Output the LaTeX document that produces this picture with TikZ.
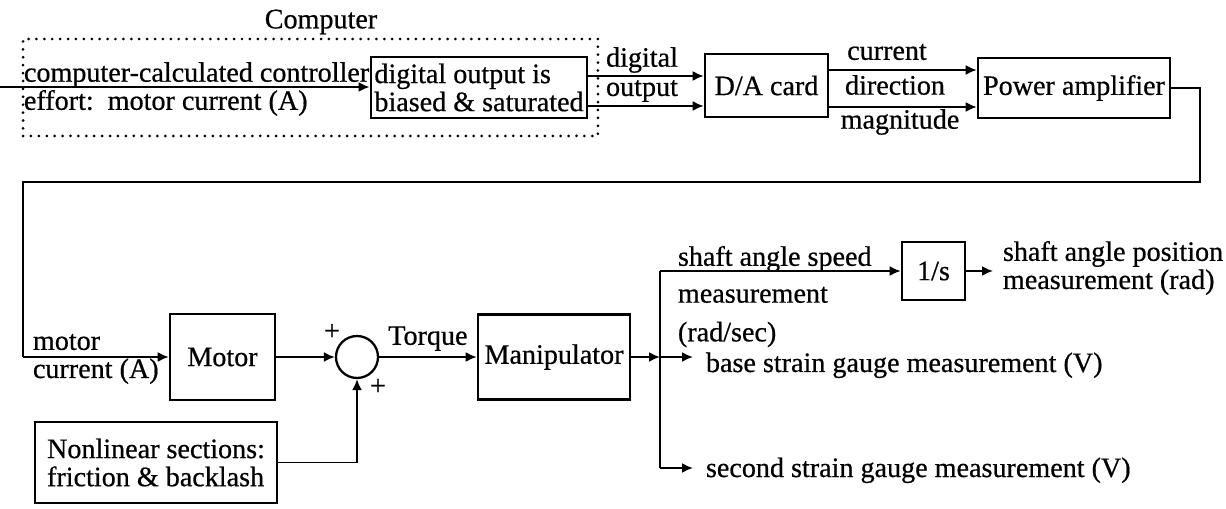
\documentclass[tikz,border=0pt]{standalone}
\usepackage{fontspec}
\setmainfont{Liberation Serif}[FakeBold=0.6]
\usetikzlibrary{arrows.meta, positioning}

\begin{document}
\begin{tikzpicture}[
    x=0.02cm, y=-0.02cm,
    line width=1.1pt,
    font=\fontsize{16}{16}\selectfont,
    caixa/.style={draw, rectangle, line width=1.5pt, inner sep=2pt, align=left},
    pontilhada/.style={draw, rectangle, line width=1.7pt, line cap=round, dash pattern=on 0pt off 4.5pt},
    somador/.style={draw, circle, line width=1.3pt, minimum size=0.84cm, inner sep=0pt},
    rotulo/.style={inner sep=0pt, align=left},
    seta/.style={-{Latex[length=2.2mm, width=2mm]}},
    fino/.style={line width=0.7pt}
]
    \useasboundingbox (0,0) rectangle (1226,509);

    % parte do computador
    \node (titulo) at (321,22) {Computer};
    \node[pontilhada, minimum width=11.5cm, minimum height=1.94cm] (computador) at (310.5,87.5) {};
    \node[caixa, minimum width=4.16cm, minimum height=1.22cm] (saida) at (479,87.5) {digital output is\\biased \& saturated};
    \node[rotulo, anchor=west] (esforco) at (23,89) {computer-calculated controller\\effort:\ \ motor current (A)};
    \coordinate (entrada) at (0,87);
    \draw[seta] (entrada) -- (saida.west |- entrada);

    % placa e amplificador
    \node[caixa, minimum width=2.46cm, minimum height=1.26cm] (placa) at (766.5,85.5) {D/A card};
    \node[caixa, minimum width=3.84cm, minimum height=1.2cm] (amplificador) at (1074,88) {Power amplifier};
    \node (digital) at (642,60) {digital};
    \node (output) at (642,91) {output};
    \node (corrente) at (887,52) {current};
    \node (direcao) at (895,85) {direction};
    \node (magnitude) at (900,122) {magnitude};

    \draw[seta] (saida.east |- 0,76) -- (placa.west |- 0,76);
    \draw[seta] (saida.east |- 0,106) -- (placa.west |- 0,106);
    \draw[seta] (placa.east |- 0,70) -- (amplificador.west |- 0,70);
    \draw[seta] (placa.east |- 0,107) -- (amplificador.west |- 0,107);

    % planta
    \node[caixa, minimum width=2.1cm, minimum height=1.72cm] (motor) at (222.5,357) {Motor};
    \node[somador] (soma) at (357,357) {};
    \node (mais1) at (332,332) {+};
    \node (mais2) at (378,387) {+};
    \node[caixa, minimum width=4.84cm, minimum height=1.62cm] (naolinear) at (156,462.5) {Nonlinear sections:\\friction \& backlash};
    \node[caixa, minimum width=3.04cm, minimum height=1.7cm] (manipulador) at (554,357) {Manipulator};
    \node[caixa, minimum width=1.26cm, minimum height=1.16cm] (integrador) at (933.5,271) {1/s};

    \coordinate (retorno) at (23,357);
    \draw[fino] (amplificador.east) -| (1200,182) -| (retorno);
    \node[rotulo, anchor=west] (correntemotor) at (32,359) {motor\\current (A)};
    \draw[seta] (retorno) -- (motor.west);
    \draw[seta] (motor) -- (soma);
    \draw[seta] (naolinear.east) -| (soma.south);
    \draw[seta] (soma) -- node[above, inner sep=3pt] (torque) {Torque} (manipulador);

    % medidas
    \coordinate (ramo) at (660,357);
    \coordinate (fimbase) at (693,357);
    \coordinate (fimsegunda) at (693,468);
    \coordinate (fimposicao) at (993,271);
    \draw[seta] (manipulador) -- (ramo);
    \draw[fino] (ramo |- integrador.west) -- (ramo |- fimsegunda);
    \draw[seta] (ramo |- integrador.west) -- (integrador.west);
    \draw[seta] (ramo) -- (fimbase);
    \draw[seta] (ramo |- fimsegunda) -- (fimsegunda);
    \draw[seta] (integrador.east) -- (fimposicao);

    \node[rotulo, anchor=north west] (velocidade) at (677,245) {shaft angle speed\\[5pt]measurement\\[6pt](rad/sec)};
    \node[rotulo, anchor=west] (posicao) at (1002,268) {shaft angle position\\measurement (rad)};
    \node[rotulo, anchor=base west] (base) at (705,372) {base strain gauge measurement (V)};
    \node[rotulo, anchor=base west] (segunda) at (705,477) {second strain gauge measurement (V)};
\end{tikzpicture}
\end{document}
